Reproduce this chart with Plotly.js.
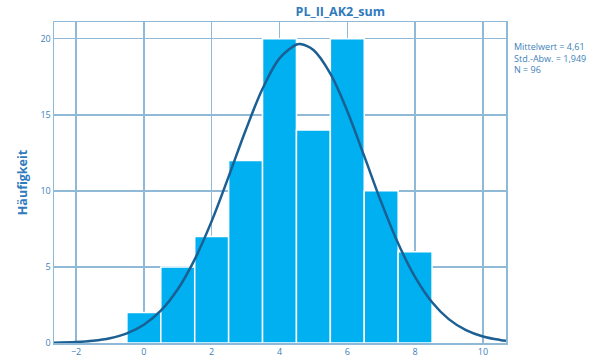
<!DOCTYPE html>
<html><head><meta charset="utf-8">
<script src="https://cdn.plot.ly/plotly-3.0.1.min.js"></script>
<style>html,body{margin:0;padding:0;background:#fff}#c{width:597px;height:360px}</style>
</head><body><div id="c"></div>
<script>
var binCenters = [0, 1, 2, 3, 4, 5, 6, 7, 8];
var counts = [2, 5, 7, 12, 20, 14, 20, 10, 6];
var curveX = [-2.65, -2, -1.5, -1, -0.5, 0, 0.5, 1, 1.5, 2, 2.5, 3, 3.5, 4, 4.5, 4.61, 5, 5.5, 6, 6.5, 7, 7.5, 8, 8.5, 9, 9.5, 10, 10.5, 10.68];
var curveY = [0.019, 0.063, 0.144, 0.312, 0.632, 1.199, 2.126, 3.533, 5.50, 8.01, 10.94, 13.97, 16.71, 18.71, 19.62, 19.65, 19.26, 17.71, 15.24, 12.28, 9.26, 6.54, 4.33, 2.68, 1.554, 0.845, 0.429, 0.204, 0.154];
var xTicks = [-2, 0, 2, 4, 6, 8, 10];
var yTicks = [0, 5, 10, 15, 20];
var titleText = "PL_II_AK2_sum";
var yTitle = "Häufigkeit";
var statsLines = ["Mittelwert = 4,61", "Std.-Abw. = 1,949", "N = 96"];

var fontFam = "Open Sans, Lato, sans-serif";
var blue = "#3d7fba";
var grid = "#8fb9d7";

var data = [
  {type: "bar", x: binCenters, y: counts, width: 1,
   marker: {color: "#00b0f0", line: {color: "#ffffff", width: 1.5}},
   hoverinfo: "none"},
  {type: "scatter", mode: "lines", x: curveX, y: curveY,
   line: {color: "#1b5f93", width: 2.5, shape: "spline"}, hoverinfo: "none"}
];
var layout = {
  width: 597, height: 360,
  margin: {l: 54, r: 91, t: 22, b: 17},
  paper_bgcolor: "#ffffff", plot_bgcolor: "#ffffff",
  showlegend: false, bargap: 0,
  font: {family: fontFam, color: blue, size: 9},
  title: {text: "<b>" + titleText + "</b>", x: 0.57, xanchor: "center", y: 0.967, yanchor: "middle",
          font: {family: fontFam, size: 12.5, color: "#2f7bbd"}},
  xaxis: {range: [-2.65, 10.68], tickvals: xTicks, ticktext: xTicks.map(function(v){return v < 0 ? "\u2212" + Math.abs(v) : String(v);}),
          showgrid: true, gridcolor: grid, gridwidth: 1.5, zeroline: false,
          showline: true, linecolor: grid, linewidth: 1.5, mirror: true, ticks: "",
          tickfont: {family: fontFam, size: 9, color: blue}},
  yaxis: {range: [0, 21.1], tickvals: yTicks, showgrid: true, gridcolor: grid, gridwidth: 1.5, zeroline: false,
          showline: true, linecolor: grid, linewidth: 1.5, mirror: true, ticks: "",
          tickfont: {family: fontFam, size: 9, color: blue},
          title: {text: "<b>" + yTitle + "</b>", standoff: 10, font: {family: fontFam, size: 12.5, color: "#2f7bbd"}}},
  annotations: [{xref: "paper", yref: "paper", x: 1.013, y: 0.95, xanchor: "left", yanchor: "top", align: "left",
    showarrow: false, text: statsLines.join("<br>"),
    font: {family: fontFam, size: 9, color: blue}}]
};
Plotly.newPlot("c", data, layout, {displayModeBar: false, staticPlot: true});
</script></body></html>
